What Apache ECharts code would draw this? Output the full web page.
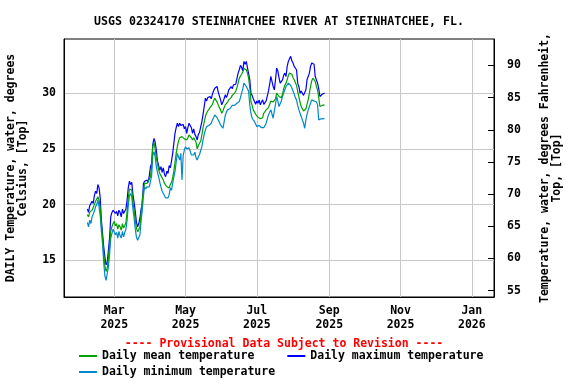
<!DOCTYPE html>
<html>
<head>
<meta charset="utf-8">
<script src="https://cdn.jsdelivr.net/npm/echarts@6/dist/echarts.min.js"></script>
<style>
html,body{margin:0;padding:0;background:#fff;}
#chart{width:576px;height:384px;}
</style>
</head>
<body>
<div id="chart"></div>
<script>
// ---- data ----
const titleText = 'USGS 02324170 STEINHATCHEE RIVER AT STEINHATCHEE, FL.';
const provisionalText = '---- Provisional Data Subject to Revision ----';
const seriesNames = ['Daily mean temperature', 'Daily maximum temperature', 'Daily minimum temperature'];
const firstDay = '2025-02-06';
const xTickDates = ['2025-03-01', '2025-05-01', '2025-07-01', '2025-09-01', '2025-11-01', '2026-01-01'];
const monthNames = ['Jan','Feb','Mar','Apr','May','Jun','Jul','Aug','Sep','Oct','Nov','Dec'];
const celsiusTicks = [15, 20, 25, 30];
const fahrenheitTicks = [55, 60, 65, 70, 75, 80, 85, 90];

const dailyMax = [
  19.6, 19.3, 19.9, 20.0, 20.3, 20.1, 20.8, 21.2, 21.0, 21.8,
  21.5, 20.6, 18.6, 17.4, 16.2, 15.3, 14.6, 14.8, 15.9, 17.0,
  18.9, 19.3, 19.5, 19.6, 19.2, 19.4, 19.0, 19.5, 19.3, 18.9,
  19.6, 19.2, 19.4, 19.6, 20.4, 21.5, 22.1, 21.8, 22.0, 20.9,
  20.2, 19.4, 18.4, 18.0, 18.3, 18.8, 19.6, 20.1, 21.9, 22.1,
  22.0, 22.2, 22.0, 22.6, 23.4, 23.7, 25.4, 25.95, 25.6, 24.9,
  23.9, 23.5, 23.1, 23.4, 22.9, 23.3, 22.7, 22.5, 23.0, 22.8,
  23.5, 23.3, 23.9, 24.6, 25.5, 26.4, 26.9, 27.3, 27.0, 27.3,
  27.1, 27.0, 27.2, 26.8, 27.0, 26.4, 26.9, 27.3, 27.1, 26.9,
  26.4, 26.8, 26.3, 26.1, 25.8, 26.3, 26.5, 26.6, 27.45, 28.1,
  28.8, 29.55, 29.3, 29.6, 29.5, 29.7, 29.5, 29.9, 30.2, 30.45,
  30.4, 30.6, 30.1, 30.0, 29.4, 28.95, 29.2, 29.5, 29.85, 29.6,
  29.9, 30.3, 30.45, 30.6, 30.4, 30.75, 30.6, 30.8, 30.75, 31.8,
  32.1, 32.5, 32.3, 32.0, 32.85, 32.6, 32.85, 32.3, 32.4, 31.2,
  30.0, 29.8, 29.5, 29.25, 29.0, 29.3, 29.1, 29.4, 28.95, 29.2,
  29.4, 29.0, 28.95, 29.3, 29.4, 30.2, 30.8, 31.5, 31.65, 30.6,
  30.3, 31.2, 32.25, 32.0, 31.4, 30.9, 30.75, 31.2, 31.6, 31.8,
  31.5, 32.4, 32.85, 33.1, 33.3, 32.9, 32.7, 32.4, 32.25, 32.1,
  30.9, 30.6, 30.0, 30.2, 30.0, 29.8, 29.7, 30.3, 31.2, 31.05,
  31.8, 32.4, 32.7, 32.85, 32.6, 31.5, 31.5, 30.9, 30.4, 29.7,
  29.85, 29.9, 30.0, 30.0
];

const dailyMean = [
  19.1, 18.9, 19.3, 19.4, 19.5, 19.6, 20.0, 20.3, 20.4, 20.7,
  20.4, 19.7, 18.2, 17.0, 15.6, 14.5, 14.0, 14.3, 15.2, 16.3,
  17.6, 18.0, 18.3, 18.5, 18.1, 18.3, 17.8, 18.2, 18.0, 17.7,
  18.3, 17.9, 18.1, 18.4, 19.4, 20.6, 21.4, 21.45, 21.3, 20.2,
  19.5, 18.6, 17.9, 17.55, 17.7, 18.0, 19.2, 20.4, 21.3, 21.9,
  21.8, 21.9, 22.1, 22.3, 22.5, 23.5, 25.2, 25.6, 25.0, 24.2,
  23.7, 23.1, 22.8, 22.6, 22.4, 22.2, 21.9, 21.8, 21.6, 21.5,
  21.5, 21.8, 22.0, 22.4, 23.0, 23.8, 24.6, 25.2, 25.7, 26.0,
  25.9, 26.1, 26.1, 25.9, 26.0, 25.8, 26.0, 26.25, 26.2, 26.0,
  25.8, 26.0, 25.9, 25.6, 25.0, 25.3, 25.5, 25.7, 26.25, 26.9,
  27.4, 27.9, 28.2, 28.4, 28.5, 28.7, 28.8, 29.0, 29.3, 29.55,
  29.4, 29.2, 28.95, 28.7, 28.5, 28.2, 28.4, 28.7, 28.95, 29.1,
  29.2, 29.4, 29.55, 29.6, 29.8, 29.9, 30.0, 30.2, 30.5, 30.9,
  31.35, 31.5, 31.7, 31.9, 32.2, 32.25, 32.1, 31.8, 31.35, 30.5,
  29.25, 28.9, 28.5, 28.3, 28.1, 28.05, 27.85, 27.9, 27.7, 27.6,
  27.8, 28.2, 28.3, 28.5, 28.5, 28.7, 29.0, 29.3, 29.4, 29.2,
  29.1, 29.5, 30.0, 29.9, 29.7, 29.55, 29.6, 29.9, 30.4, 30.7,
  30.9, 31.2, 31.6, 31.8, 31.8, 31.7, 31.4, 31.2, 31.2, 30.7,
  30.15, 29.7, 29.2, 28.8, 28.6, 28.4, 28.35, 28.6, 29.0, 29.4,
  30.0, 30.6, 31.1, 31.35, 31.3, 31.05, 30.6, 30.3, 29.6, 28.8,
  28.7, 28.9, 28.95, 28.95
];

const dailyMin = [
  18.4, 18.0, 18.6, 18.3, 18.9, 19.0, 19.4, 19.8, 20.0, 20.4,
  19.8, 19.0, 17.6, 16.5, 14.8, 13.6, 13.2, 13.1, 14.4, 15.5,
  17.0, 17.4, 17.8, 17.9, 17.3, 17.5, 17.0, 17.6, 17.2, 17.0,
  17.6, 17.1, 17.5, 17.8, 18.6, 19.9, 20.8, 21.0, 20.7, 19.6,
  18.8, 17.8, 17.1, 16.8, 16.9, 17.3, 18.6, 19.5, 20.8, 21.6,
  21.4, 21.6, 21.5, 21.6, 21.7, 22.6, 24.4, 24.75, 24.3, 23.4,
  22.9, 22.5, 22.0, 21.6, 21.2, 21.0, 20.8, 20.6, 20.7, 20.6,
  20.9, 21.5, 21.3, 21.9, 22.5, 22.95, 23.8, 24.6, 24.3, 24.0,
  24.6, 22.2, 24.4, 24.9, 25.2, 25.0, 25.1, 25.1, 24.8, 24.45,
  24.5, 24.45, 24.7, 24.2, 24.0, 24.3, 24.5, 24.6, 25.2, 25.8,
  26.3, 26.7, 27.0, 26.9, 27.1, 27.2, 27.3, 27.6, 27.8, 28.05,
  27.9, 27.8, 27.6, 27.4, 27.15, 27.2, 26.85, 27.4, 28.0, 28.3,
  28.5, 28.5, 28.6, 28.7, 28.9, 28.95, 28.9, 29.0, 29.1, 29.25,
  29.25, 29.6, 30.0, 30.4, 30.9, 30.9, 30.6, 30.4, 30.15, 28.9,
  28.2, 27.75, 27.6, 27.45, 27.3, 27.0, 27.0, 27.1, 27.15, 26.9,
  27.0, 26.9, 27.1, 27.3, 27.7, 28.05, 28.3, 28.5, 28.5, 27.75,
  28.4, 29.0, 29.7, 29.3, 28.8, 28.9, 29.3, 29.7, 30.0, 30.3,
  30.6, 30.7, 30.9, 30.9, 30.7, 30.45, 30.2, 29.9, 29.6, 29.4,
  28.9, 28.5, 28.2, 27.9, 27.6, 27.3, 26.85, 27.6, 28.1, 28.5,
  28.8, 29.1, 29.4, 29.4, 29.3, 29.4, 29.2, 28.95, 27.6, 27.6,
  27.7, 27.75, 27.7, 27.75
];

// ---- build ----
const DAY = 86400000;
const t0 = Date.parse(firstDay + 'T00:00:00Z');
const toPairs = arr => arr.map((v, i) => [t0 + i * DAY, v]);
const xTicks = xTickDates.map(s => Date.parse(s + 'T00:00:00Z'));
const FONT = 'DejaVu Sans Mono';
const txt = { fontFamily: FONT, fontWeight: 'bold', fontSize: 11.5, color: '#000' };

const chart = echarts.init(document.getElementById('chart'), null, { renderer: 'canvas' });
chart.setOption({
  animation: false,
  backgroundColor: '#fff',
  title: [
    { text: titleText, left: 274, top: 11, textAlign: 'center',
      textStyle: Object.assign({}, txt, { fontSize: 11.6 }) },
    { text: provisionalText, left: 279, top: 333, textAlign: 'center',
      textStyle: Object.assign({}, txt, { color: '#ff0000' }) }
  ],
  legend: [
    { data: [seriesNames[0], seriesNames[1]], left: 79, top: 350, padding: 0, itemWidth: 18, itemHeight: 2, itemGap: 33,
      icon: 'rect', textStyle: Object.assign({}, txt) },
    { data: [seriesNames[2]], left: 79, top: 366, padding: 0, itemWidth: 18, itemHeight: 2,
      icon: 'rect', textStyle: Object.assign({}, txt) }
  ],
  grid: { left: 64, top: 39, width: 430, height: 258, outerBoundsMode: 'none', containLabel: false,
    show: true, borderColor: '#000', borderWidth: 1, backgroundColor: 'transparent' },
  xAxis: {
    type: 'value',
    min: Date.parse('2025-01-17T00:00:00Z'),
    max: Date.parse('2026-01-20T00:00:00Z'),
    axisLine: { show: true, lineStyle: { color: '#000' } },
    axisTick: { show: false, customValues: xTicks },
    axisLabel: {
      customValues: xTicks, margin: 7, lineHeight: 14,
      fontFamily: FONT, fontWeight: 'bold', fontSize: 11.5, color: '#000',
      formatter: v => { const d = new Date(v); return monthNames[d.getUTCMonth()] + '\n' + d.getUTCFullYear(); }
    },
    splitLine: { show: true, lineStyle: { color: '#c8c8c8', width: 1 } }
  },
  yAxis: [
    {
      type: 'value', position: 'left', min: 11.71, max: 34.86,
      name: 'DAILY Temperature, water, degrees\nCelsius, [Top]',
      nameLocation: 'middle', nameRotate: 90, nameGap: 35,
      nameTextStyle: Object.assign({}, txt, { lineHeight: 12 }),
      axisLine: { show: true, lineStyle: { color: '#000' } },
      axisTick: { show: false, customValues: celsiusTicks },
      axisLabel: { customValues: celsiusTicks, margin: 8, fontFamily: FONT, fontWeight: 'bold', fontSize: 11.5, color: '#000' },
      splitLine: { show: true, lineStyle: { color: '#c8c8c8', width: 1 } }
    },
    {
      type: 'value', position: 'right', min: 54.02, max: 94.11,
      name: 'Temperature, water, degrees Fahrenheit,\nTop, [Top]',
      nameLocation: 'middle', nameRotate: 90, nameGap: 45,
      nameTextStyle: Object.assign({}, txt, { lineHeight: 12 }),
      axisLine: { show: true, lineStyle: { color: '#000' } },
      axisTick: { show: true, inside: true, length: 6, customValues: fahrenheitTicks, lineStyle: { color: '#000' } },
      axisLabel: { customValues: fahrenheitTicks, margin: 13, fontFamily: FONT, fontWeight: 'bold', fontSize: 11.5, color: '#000' },
      splitLine: { show: false }
    }
  ],
  series: [
    { name: seriesNames[1], type: 'line', yAxisIndex: 0, symbol: 'none', data: toPairs(dailyMax),
      lineStyle: { color: '#0000ff', width: 1.2 }, itemStyle: { color: '#0000ff' } },
    { name: seriesNames[2], type: 'line', yAxisIndex: 0, symbol: 'none', data: toPairs(dailyMin),
      lineStyle: { color: '#0088cc', width: 1.2 }, itemStyle: { color: '#0088cc' } },
    { name: seriesNames[0], type: 'line', yAxisIndex: 0, symbol: 'none', data: toPairs(dailyMean),
      lineStyle: { color: '#00a000', width: 1.2 }, itemStyle: { color: '#00a000' } }
  ]
});
</script>
</body>
</html>
